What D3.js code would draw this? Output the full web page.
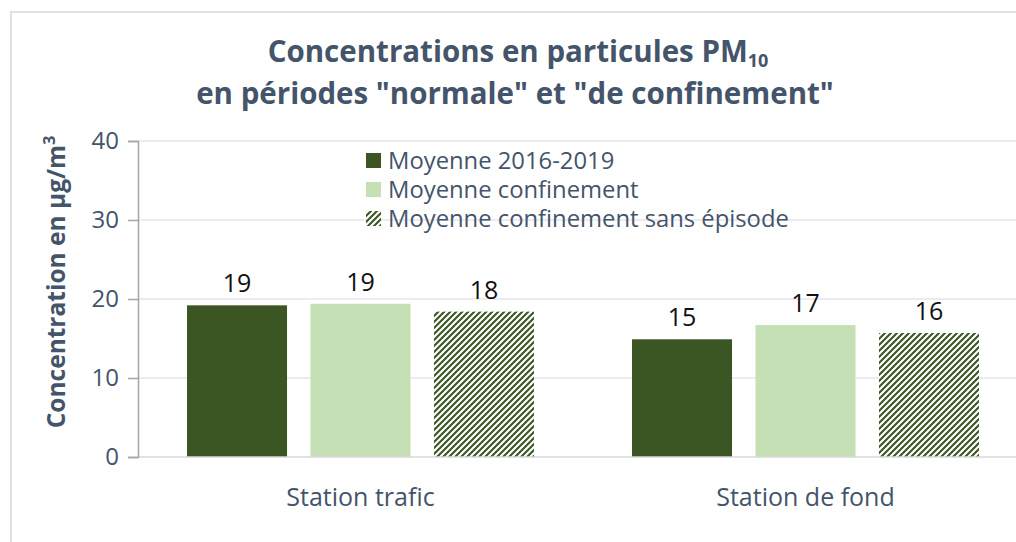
<!DOCTYPE html>
<html><head><meta charset="utf-8">
<script src="https://cdn.jsdelivr.net/npm/d3@7"></script>
<style>body{margin:0;background:#fff}svg{display:block}text{font-family:"Open Sans",sans-serif}</style>
</head><body>
<svg id="c" width="1016" height="542"></svg>
<script>
const categories = ["Station trafic", "Station de fond"];
const seriesNames = ["Moyenne 2016-2019", "Moyenne confinement", "Moyenne confinement sans épisode"];
const moyenne2016_2019 = [19.2, 14.9];
const moyenneConfinement = [19.4, 16.7];
const moyenneSansEpisode = [18.4, 15.7];
const yTicks = [0, 10, 20, 30, 40];

const series = [moyenne2016_2019, moyenneConfinement, moyenneSansEpisode];
const fills = ["#3b5623", "#c5e0b4", "url(#hatch)"];
const slate = "#44546a";

const svg = d3.select("#c");
const defs = svg.append("defs");
const pat = defs.append("pattern").attr("id","hatch").attr("patternUnits","userSpaceOnUse")
  .attr("width",6).attr("height",6);
pat.append("rect").attr("width",6).attr("height",6).attr("fill","#fff");
pat.append("path").attr("d","M0,6 L6,0 M-1,1 L1,-1 M5,7 L7,5").attr("stroke","#3b5623").attr("stroke-width",2.1);

// frame
svg.append("path").attr("d","M11,542 V12 H1016").attr("fill","none").attr("stroke","#dde1ea").attr("stroke-width",2);

const x0 = 138, x1 = 1028, yTop = 141, yBot = 457;
const y = d3.scaleLinear().domain([0,40]).range([yBot,yTop]);
const xc = d3.scaleBand().domain(categories).range([x0,x1]).paddingInner(0).paddingOuter(0);
const xs = d3.scaleBand().domain(d3.range(3)).range([49, 445-49]).paddingInner(0.19).paddingOuter(0);

// gridlines
svg.append("g").selectAll("line").data(yTicks.slice(1)).join("line")
  .attr("x1",x0).attr("x2",1016).attr("y1",d=>y(d)).attr("y2",d=>y(d))
  .attr("stroke","#e3e6ec").attr("stroke-width",1.3);

// bars
const g = svg.append("g");
series.forEach((vals,si)=>{
  g.selectAll(null).data(vals).join("rect")
    .attr("x",(d,i)=>xc(categories[i])+xs(si))
    .attr("width",xs.bandwidth())
    .attr("y",d=>y(d)).attr("height",d=>yBot-y(d))
    .attr("fill",fills[si]);
  g.selectAll(null).data(vals).join("text")
    .attr("x",(d,i)=>xc(categories[i])+xs(si)+xs.bandwidth()/2)
    .attr("y",d=>y(d)-13)
    .attr("text-anchor","middle").attr("font-size",25).attr("fill","#111")
    .text(d=>Math.round(d));
});

// baseline
svg.append("line").attr("x1",x0).attr("x2",1016).attr("y1",yBot).attr("y2",yBot).attr("stroke","#d9d9d9").attr("stroke-width",1.3);

// y axis
const ax = svg.append("g").attr("transform",`translate(${x0},0)`)
  .call(d3.axisLeft(y).tickValues(yTicks).tickSize(10).tickPadding(9));
ax.select(".domain").attr("stroke","#a6a6a6").attr("stroke-width",1.5);
ax.selectAll(".tick line").attr("stroke","#a6a6a6").attr("stroke-width",1.5);
ax.selectAll(".tick text").attr("font-size",24).attr("fill",slate).attr("font-family","Open Sans,sans-serif");

// category labels
svg.append("g").selectAll("text").data(categories).join("text")
  .attr("x",d=>xc(d)+xc.bandwidth()/2).attr("y",506)
  .attr("text-anchor","middle").attr("font-size",25).attr("fill",slate).text(d=>d);

// title (two lines)
const t1 = svg.append("text").attr("text-anchor","middle").attr("font-size",29.5).attr("font-weight","bold").attr("fill",slate)
  .attr("x",518).attr("y",62);
t1.append("tspan").text("Concentrations en particules PM");
t1.append("tspan").attr("font-size",18).attr("dy",5).text("10");
svg.append("text").attr("text-anchor","middle").attr("font-size",29.5).attr("font-weight","bold").attr("fill",slate)
  .attr("x",515).attr("y",104).text("en périodes \"normale\" et \"de confinement\"");

// y title
const yt = svg.append("text").attr("transform","translate(65,282) rotate(-90)")
  .attr("text-anchor","middle").attr("font-size",24.5).attr("font-weight","bold").attr("fill",slate);
yt.append("tspan").text("Concentration en µg/m");
yt.append("tspan").attr("font-size",16).attr("dy",-10).text("3");

// legend
const lg = svg.append("g").attr("transform","translate(366,150)");
seriesNames.forEach((n,i)=>{
  lg.append("rect").attr("x",0).attr("y",i*29+3).attr("width",15).attr("height",15).attr("fill",fills[i]);
  lg.append("text").attr("x",22).attr("y",i*29+19).attr("font-size",23.8).attr("fill",slate).text(n);
});
</script>
</body></html>
